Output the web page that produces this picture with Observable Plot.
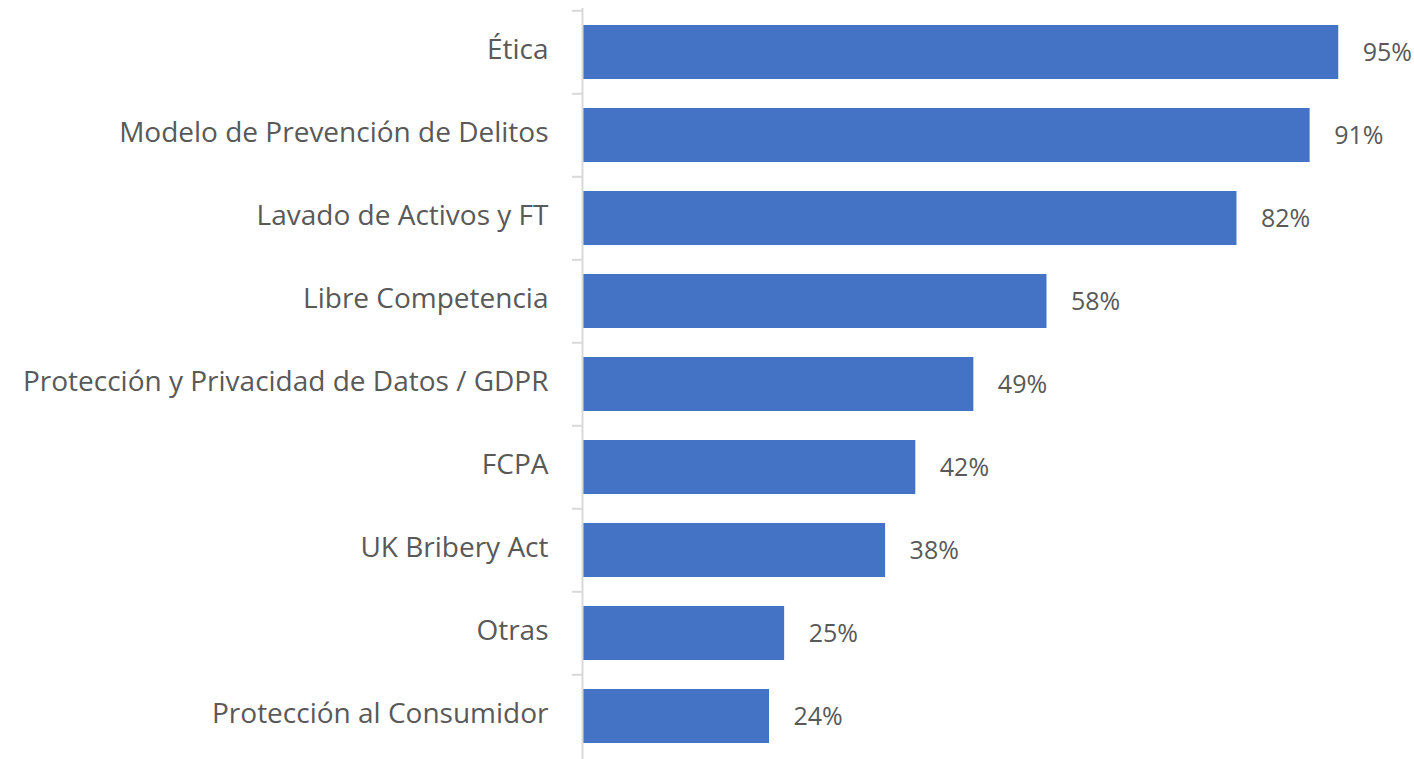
<!DOCTYPE html>
<html>
<head>
<meta charset="utf-8">
<script src="https://cdn.jsdelivr.net/npm/d3@7"></script>
<script src="https://cdn.jsdelivr.net/npm/@observablehq/plot@0.6"></script>
<style>
  html, body { margin: 0; padding: 0; background: #fff; }
</style>
</head>
<body>
<div id="chart"></div>
<script>
const categories = [
  "Ética",
  "Modelo de Prevención de Delitos",
  "Lavado de Activos y FT",
  "Libre Competencia",
  "Protección y Privacidad de Datos / GDPR",
  "FCPA",
  "UK Bribery Act",
  "Otras",
  "Protección al Consumidor"
];
// bar lengths (percent)
const values = [95, 91.4, 82.2, 58.3, 49.1, 41.8, 38, 25.3, 23.4];
const valueLabels = ["95%", "91%", "82%", "58%", "49%", "42%", "38%", "25%", "24%"];

const data = categories.map((c, i) => ({ category: c, value: values[i], label: valueLabels[i] }));

const W = 1414, H = 759, mTop = 8, mBottom = 0;
const step = (H - mTop - mBottom) / categories.length;
const padIn = 0.353;

const chart = Plot.plot({
  width: W,
  height: H,
  marginLeft: 583,
  marginRight: 36,
  marginTop: mTop,
  marginBottom: mBottom,
  style: { fontFamily: "'Open Sans', sans-serif", color: "#595959", background: "#fff" },
  x: { domain: [0, 100], axis: null },
  y: { domain: categories, paddingInner: padIn, paddingOuter: padIn / 2, axis: null, label: null },
  marks: [
    Plot.barX(data, { x: "value", y: "category", fill: "#4472C4" }),
    Plot.ruleX([0], { stroke: "#d9d9d9", strokeWidth: 2, dx: -1 }),
    Plot.axisY({ tickSize: 10, text: null, label: null, stroke: "#d9d9d9", strokeWidth: 2, dy: -step / 2, dx: -1 }),
    Plot.axisY({ tickSize: 0, tickPadding: 35, label: null, fontSize: 28, fill: "#595959", textAnchor: "end", dy: -2 }),
    Plot.text(data, { x: "value", y: "category", text: "label", dx: 24, textAnchor: "start", fontSize: 25, fill: "#595959" })
  ]
});
document.getElementById("chart").appendChild(chart);
</script>
</body>
</html>
